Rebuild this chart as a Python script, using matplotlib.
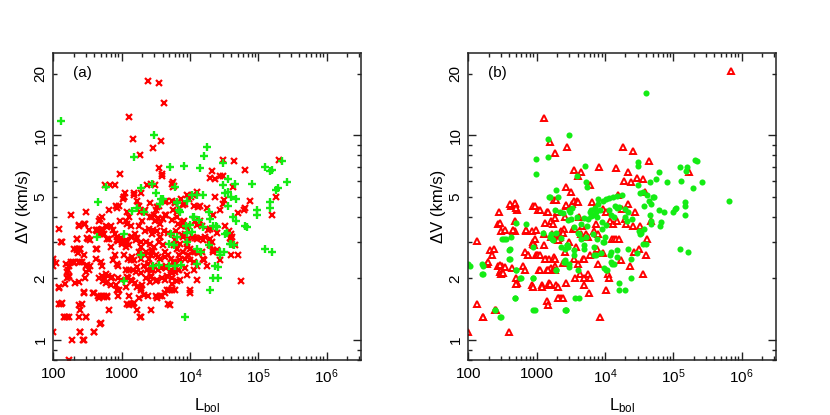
import matplotlib
matplotlib.use("Agg")
import matplotlib.pyplot as plt
from matplotlib.ticker import FixedLocator, FuncFormatter, NullFormatter
import numpy as np

plt.rcParams['font.family'] = ['Liberation Sans', 'DejaVu Sans']
plt.rcParams['mathtext.fontset'] = 'custom'
plt.rcParams['mathtext.rm'] = 'Liberation Sans'
plt.rcParams['mathtext.it'] = 'Liberation Sans'

# ---------------- data (Lbol [Lsun], Delta V [km/s]) ----------------
# panel (a): red crosses
a_red = [
    (100, 2.5), (100, 2.4), (100, 2.3), (100, 1.1), (122, 3.5), (132, 3.0), (122, 1.82), (120, 1.5),
    (130, 1.5), (145, 1.3), (160, 1.3), (170, 0.8), (180, 4.1), (170, 2.3), (165, 2.2), (170, 2.05),
    (160, 2.0), (195, 2.4), (190, 1.0), (155, 2.35), (205, 1.9), (220, 2.8), (235, 2.8), (250, 2.8),
    (225, 3.1), (240, 3.6), (240, 2.4), (250, 2.4), (265, 2.4), (230, 2.65), (240, 1.3), (305, 1.3),
    (250, 1.4), (265, 1.5), (245, 1.1), (275, 1.0), (280, 1.7), (290, 3.7), (297, 4.2), (318, 3.1),
    (335, 3.45), (300, 2.3), (300, 2.15), (290, 2.0), (280, 2.6), (385, 1.7), (390, 1.1), (480, 1.2),
    (350, 2.3), (420, 3.45), (440, 3.45), (460, 3.45), (430, 2.8), (420, 2.5), (450, 1.65), (500, 1.65),
    (560, 1.65), (480, 3.3), (460, 2.0), (480, 3.9), (510, 4.0), (520, 3.5), (510, 3.3), (520, 2.3),
    (510, 2.05), (530, 1.95), (570, 5.7), (680, 5.7), (800, 5.7), (650, 4.3), (560, 3.3), (590, 3.6),
    (620, 3.1), (660, 3.1), (700, 3.6), (600, 2.1), (640, 2.05), (690, 2.0), (620, 1.65), (650, 1.4),
    (600, 1.9), (700, 1.85), (820, 4.5), (860, 4.4), (750, 3.45), (800, 3.3), (870, 3.2), (900, 3.05),
    (950, 3.1), (1000, 3.0), (800, 2.6), (760, 2.45), (850, 2.35), (900, 2.3), (880, 2.0), (820, 1.85),
    (870, 1.75), (900, 1.65), (960, 6.5), (950, 3.8), (1050, 4.9),
    (238, 3.65), (280, 3.7), (470, 3.8), (500, 3.45), (620, 3.57), (128, 3.0), (225, 3.1), (315, 3.14),
    (350, 3.08), (440, 3.4), (200, 2.8), (225, 2.75), (250, 2.8), (420, 2.8), (690, 2.85), (870, 3.07),
    (970, 3.14), (1150, 2.96), (108, 2.37), (180, 2.4), (200, 2.37), (315, 2.33), (500, 2.4), (160, 2.15),
    (170, 2.04), (330, 2.2), (550, 2.0), (735, 2.04), (121, 1.79), (150, 1.89), (238, 1.93), (280, 1.72),
    (395, 1.69), (470, 1.6), (550, 1.63), (620, 1.63), (135, 1.51), (238, 1.48), (150, 1.3), (170, 1.3),
    (300, 1.3), (500, 1.21), (395, 1.1), (250, 1.1), (280, 1.0),
    (1000, 2.96), (1150, 3.08), (1360, 3.2), (1610, 3.08), (1900, 2.86), (2240, 2.7), (2670, 2.6),
    (1360, 2.46), (1690, 2.28), (1900, 2.12), (2370, 2.2), (2670, 2.04), (1360, 1.96), (1690, 1.82),
    (1900, 1.75), (2130, 1.66), (1520, 1.51), (1280, 1.48), (1900, 1.3), (1210, 2.04), (970, 1.96),
    (1150, 1.82), (920, 1.75),
    (1070, 5.0), (1130, 5.2), (1280, 12.3), (1470, 9.6), (1875, 8.0), (1500, 5.1), (1700, 4.8),
    (1900, 5.2), (1750, 4.5), (1300, 4.0), (1150, 3.8), (1200, 3.7), (1350, 3.6), (1400, 3.2),
    (1550, 3.3), (1700, 3.15), (1200, 3.0), (1300, 2.9), (1150, 2.85), (1100, 2.6), (1250, 2.5),
    (1400, 2.55), (1500, 2.45), (1150, 2.2), (1300, 2.2), (1450, 2.2), (1600, 2.15), (1250, 2.0),
    (1400, 1.95), (1550, 1.9), (1200, 1.5), (1350, 1.5), (1450, 1.5), (1300, 1.65), (1700, 1.4),
    (1850, 1.3), (1800, 1.6), (1900, 1.8), (2000, 1.85), (1950, 2.5), (1800, 2.7), (1900, 3.0),
    (1800, 3.6), (2000, 3.8), (1850, 4.2), (1080, 5.0), (1520, 5.2), (920, 4.5), (1200, 4.2),
    (1800, 4.5), (2100, 4.2),
    (2450, 18.4), (3560, 18.1), (4200, 14.4), (2880, 8.7), (3800, 9.4), (3560, 6.9), (3940, 6.5),
    (3940, 6.3), (2320, 5.7), (2700, 5.8), (3200, 4.3), (3500, 4.5), (3000, 4.1), (2600, 4.0),
    (2200, 4.3), (3100, 3.8), (3400, 3.9), (3700, 3.7), (4000, 3.9), (4500, 4.1), (2200, 3.4),
    (2500, 3.5), (2800, 3.3), (3300, 3.4), (3600, 3.2), (4200, 3.4), (2300, 3.0), (2600, 2.95),
    (3000, 2.85), (3500, 3.0), (4000, 2.9), (2200, 2.6), (2500, 2.5), (2800, 2.7), (3200, 2.6),
    (3700, 2.5), (4300, 2.55), (4800, 2.6), (2100, 2.3), (2400, 2.35), (2700, 2.2), (3000, 2.3),
    (3400, 2.2), (3800, 2.25), (4500, 2.3), (2300, 2.0), (2700, 2.05), (3200, 1.95), (3900, 2.0),
    (4600, 2.05), (2400, 1.65), (3200, 1.65), (3600, 1.65), (3900, 1.65), (2650, 1.4), (4800, 1.5),
    (4600, 1.75), (5000, 1.75), (4500, 4.8),
    (3070, 5.7), (5400, 5.8), (5700, 5.6), (2600, 4.65), (3270, 4.47), (4300, 4.74), (6050, 4.65),
    (8000, 4.57), (11200, 5.1), (13200, 4.47), (17600, 4.4), (23000, 5.0), (31000, 4.84), (43000, 5.6),
    (51000, 4.16), (64000, 4.4), (2750, 4.0), (3450, 3.93), (4300, 4.07), (5400, 3.86), (6400, 4.0),
    (8000, 3.78), (9500, 3.45), (12600, 3.65), (18600, 3.45), (24700, 3.33), (39000, 3.14),
    (45000, 2.9), (50000, 2.6), (2900, 3.45), (3650, 3.2), (4800, 3.33), (6000, 3.08), (7600, 3.26),
    (9000, 2.96), (11900, 3.14), (15700, 3.08), (19700, 2.9), (2750, 2.75), (3450, 2.55), (4300, 2.7),
    (5700, 2.4), (7200, 2.46), (9500, 2.6), (11900, 2.7), (15700, 2.5), (22000, 2.7), (27500, 2.46),
    (2900, 2.2), (4400, 2.24), (5500, 2.12), (7000, 2.2), (9200, 2.08), (11400, 2.2), (12800, 1.96),
    (2600, 1.93), (3270, 1.96), (4300, 1.96), (5400, 1.89), (7200, 1.96), (3270, 1.6), (4300, 1.69),
    (5100, 1.48), (10000, 1.69),
    (5570, 5.9), (5890, 5.65), (5500, 4.8), (6100, 4.7), (7500, 4.9), (8500, 4.6), (9000, 5.1),
    (9600, 4.9), (5700, 4.3), (6500, 4.2), (7000, 4.4), (6800, 3.7), (7500, 3.6), (8200, 3.8),
    (9000, 3.6), (5500, 3.3), (6200, 3.4), (7800, 3.2), (8500, 3.3), (9500, 3.1), (5800, 2.9),
    (6500, 2.8), (7200, 2.95), (8000, 2.7), (9000, 2.85), (10000, 2.8), (5200, 2.5), (6000, 2.4),
    (7000, 2.6), (8500, 2.5), (10000, 2.45), (5300, 2.2), (6100, 2.15), (6800, 2.2), (8500, 2.25),
    (5500, 2.0), (6500, 1.95), (5400, 1.75), (6000, 1.75), (10000, 1.75),
    (10500, 5.0), (11500, 4.5), (12500, 5.27), (14000, 4.5), (12000, 3.8), (13000, 3.7), (14000, 3.8),
    (15000, 3.6), (11000, 3.2), (12500, 3.1), (14500, 3.15), (16500, 3.2), (11000, 2.7), (13000, 2.65),
    (15000, 2.7), (11500, 2.4), (12500, 2.3), (16000, 2.45), (18000, 2.3), (20000, 3.1), (21000, 3.0),
    (21000, 6.7), (20000, 6.2), (23000, 6.1), (22000, 4.1), (20000, 3.5), (22000, 2.75), (25000, 2.75),
    (28000, 6.3), (30000, 6.3), (30000, 7.6), (30000, 4.6), (28000, 4.3), (33000, 3.6), (37000, 3.4),
    (40000, 3.3), (41000, 3.2), (40000, 3.1), (40000, 2.6), (44000, 7.5), (55000, 1.95), (65000, 6.8),
    (62000, 4.3), (75000, 4.8), (160000, 4.1), (180000, 5.0), (200000, 7.6),
]

# panel (a): green plus signs
a_green = [
    (130, 11.8), (450, 4.7), (440, 3.2), (600, 5.6), (1500, 7.8), (3000, 10.0), (2800, 5.8), (1900, 5.5),
    (3200, 5.2), (3800, 4.9), (3600, 4.6), (1700, 4.4), (1400, 4.25), (2100, 4.2), (1100, 3.3),
    (1900, 2.6), (1100, 1.95), (2900, 2.3), (5000, 2.95), (5200, 3.3), (5100, 7.0), (8300, 7.1),
    (6100, 5.6), (6400, 4.7), (7000, 4.3), (5000, 2.3), (6000, 2.3), (8700, 3.6), (9200, 3.35),
    (9000, 3.0), (9000, 4.8), (12700, 5.1), (14000, 6.9), (16000, 7.9), (18000, 8.8), (15500, 5.1),
    (11500, 4.0), (13500, 3.85), (12500, 2.8), (12500, 2.35), (20000, 3.9), (19000, 4.2), (22000, 3.6),
    (24000, 3.6), (28000, 2.6), (28000, 2.7), (23000, 2.3), (22000, 2.0), (20000, 1.75), (8500, 1.3),
    (30000, 7.3), (30000, 5.7), (33000, 5.2), (36000, 5.3), (36000, 6.1), (40000, 5.0), (45000, 5.8),
    (48000, 4.9), (42000, 4.0), (48000, 3.8), (36000, 4.5), (33000, 3.3), (38000, 2.95), (40000, 2.95),
    (65000, 3.6), (82000, 5.8), (95000, 4.3), (95000, 4.1), (125000, 2.8), (160000, 2.7), (125000, 7.0),
    (150000, 6.7), (160000, 6.8), (220000, 7.5), (260000, 5.9), (180000, 5.4), (195000, 5.5),
    (150000, 4.7), (150000, 4.4), (4100, 4.9), (6400, 4.65), (10600, 5.1), (7200, 4.24), (10000, 3.65),
    (11200, 4.0), (15700, 3.57), (24700, 3.57), (35000, 3.33), (68000, 3.57), (6500, 3.2), (5800, 2.9),
    (10800, 3.38), (19000, 2.9), (32000, 2.7), (44000, 2.9), (3500, 2.33), (7300, 2.33), (14400, 2.7),
    (26000, 2.28), (26000, 2.0),
]

# panel (b): red open triangles
b_red = [
    (100, 1.1), (135, 3.05), (135, 1.5), (165, 1.3), (190, 2.35), (210, 2.75), (225, 2.6), (245, 1.4),
    (280, 4.2), (275, 3.7), (300, 3.4), (270, 2.3), (290, 2.15), (305, 2.2), (315, 2.3), (300, 2.1),
    (400, 1.1), (420, 4.5), (450, 3.4), (480, 3.4), (490, 4.6), (510, 4.3), (480, 3.8), (500, 2.0),
    (510, 1.9), (640, 2.3), (680, 2.7), (700, 3.4), (750, 2.6), (850, 1.85), (870, 3.4), (880, 4.5),
    (900, 3.0), (920, 2.9), (950, 3.1), (970, 2.6), (1000, 2.6), (1050, 2.6), (1050, 4.3), (1100, 2.2),
    (1200, 1.85), (1280, 12.2), (1300, 2.9), (1300, 3.3), (1400, 4.2), (1350, 2.5), (1500, 2.5),
    (1400, 2.2), (1500, 2.2), (1600, 2.25), (1500, 1.9), (1550, 1.85), (1430, 1.55), (1550, 9.3),
    (1850, 8.2), (1650, 3.8), (1750, 3.7), (1800, 4.85), (1700, 3.3), (1600, 3.2), (1800, 2.55),
    (1850, 2.3), (1900, 1.85), (2000, 4.2), (2000, 3.1), (2100, 3.15), (2200, 3.2), (2100, 1.6),
    (2300, 1.6), (2300, 3.4), (2600, 4.0), (2700, 5.6), (2800, 8.8), (2700, 4.5), (2500, 3.5),
    (2600, 2.7), (2700, 1.9), (3000, 3.0), (3200, 5.3), (3300, 4.6), (3500, 6.8), (3500, 4.8),
    (3400, 3.5), (3700, 3.5), (3500, 2.5), (3800, 2.85), (3700, 2.0), (3900, 4.8), (4100, 4.7),
    (4000, 6.3), (4000, 2.35), (4200, 4.0), (4300, 2.1), (4500, 6.6), (4400, 3.3), (4600, 3.6),
    (4700, 2.5), (5000, 2.5), (4900, 1.85), (5000, 2.0), (5200, 3.3), (5600, 3.2), (5600, 2.1),
    (5800, 1.7), (6000, 2.0), (6000, 2.6), (6100, 5.7), (6400, 4.7), (7000, 3.4), (7200, 4.4),
    (7500, 3.7), (7600, 2.8), (8000, 3.3), (8200, 7.0), (8000, 2.35), (8500, 1.3), (9300, 4.35),
    (9500, 2.65), (10200, 1.75), (10500, 4.2), (11000, 2.1), (11500, 2.0), (12000, 3.8), (12500, 3.1),
    (13500, 3.1), (14500, 3.1), (13000, 3.7), (14500, 6.9), (15000, 3.8), (15500, 5.1), (16000, 3.1),
    (17000, 2.45), (18000, 4.35), (18500, 8.8), (19000, 6.0), (20000, 3.9), (20500, 3.7), (21500, 6.6),
    (22000, 4.6), (23000, 2.3), (24000, 5.9), (26000, 8.4), (26000, 3.6), (27000, 2.7), (28000, 4.2),
    (29000, 6.2), (32000, 2.8), (33000, 3.6), (36000, 6.1), (36000, 2.1), (39000, 5.3), (41000, 3.1),
    (40000, 2.6), (44000, 7.5), (47000, 3.8), (170000, 6.6), (700000, 20.5),
    (404, 4.6), (478, 4.68), (505, 4.43), (940, 4.53), (1110, 4.32), (1470, 4.2), (1940, 4.83),
    (2720, 4.57), (288, 3.72), (340, 3.45), (452, 3.45), (705, 3.45), (990, 3.45), (1330, 3.72),
    (1860, 3.93), (2050, 3.08), (2440, 3.33), (235, 2.8), (195, 2.41), (288, 2.33), (345, 2.28),
    (325, 2.12), (430, 2.24), (680, 2.2), (760, 2.6), (895, 2.96), (1120, 2.6), (1320, 2.5), (1860, 2.5),
    (1120, 2.2), (1470, 2.2), (1860, 2.2), (2440, 2.37), (505, 1.89), (895, 1.82), (1190, 1.82),
    (1570, 1.89), (2050, 1.82), (1470, 1.48), (2050, 1.6), (2440, 1.6), (164, 1.3), (257, 1.4),
]

# panel (b): green filled dots
b_green = [
    (100, 2.35), (160, 2.35), (160, 2.1), (250, 1.4), (290, 1.3), (310, 3.1), (330, 3.1), (390, 2.75),
    (400, 2.5), (420, 3.2), (480, 1.6), (500, 2.2), (570, 2.0), (700, 3.7), (880, 1.4), (900, 2.0),
    (900, 2.85), (980, 6.5), (980, 7.7), (1450, 9.6), (1450, 7.8), (1500, 5.0), (1600, 3.3), (1700, 3.1),
    (1900, 5.4), (1850, 4.3), (1950, 2.2), (2200, 4.2), (2300, 2.85), (2600, 2.45), (2600, 1.4),
    (2800, 2.9), (3000, 10.0), (3000, 4.3), (3000, 2.35), (3200, 3.9), (3300, 4.4), (3500, 2.6),
    (3700, 1.6), (4200, 1.6), (3900, 6.3), (4000, 2.2), (4200, 3.3), (4500, 3.1), (4500, 3.7),
    (5000, 2.9), (5100, 7.1), (5300, 5.9), (5500, 5.6), (5500, 3.6), (5700, 3.9), (6000, 4.2),
    (6300, 4.3), (6800, 4.1), (7200, 4.4), (6600, 3.3), (7000, 2.6), (7500, 2.6), (7800, 4.9),
    (8000, 4.6), (8500, 4.3), (9000, 3.5), (9500, 4.8), (9500, 3.0), (10000, 3.2), (10500, 4.9),
    (11500, 4.95), (13000, 5.0), (10500, 2.2), (11500, 4.3), (12000, 2.6), (12500, 2.35), (13500, 2.35),
    (13500, 4.0), (14000, 4.5), (15000, 4.4), (15000, 2.55), (16000, 1.9), (16000, 1.75), (18000, 5.1),
    (19500, 4.35), (20000, 1.75), (20000, 4.0), (21000, 3.8), (22000, 2.8), (24000, 2.0), (25000, 3.9),
    (30000, 7.4), (30000, 7.1), (30000, 5.7), (33000, 5.2), (32000, 3.4), (33000, 3.3), (36000, 5.3),
    (36000, 2.95), (37000, 4.5), (40000, 16.0), (40000, 2.95), (41000, 5.1), (44000, 4.8), (45000, 4.1),
    (47000, 3.8), (48000, 4.6), (45000, 5.9), (50000, 5.0), (55000, 6.1), (62000, 6.6), (62000, 4.3),
    (65000, 3.6), (82000, 5.9), (100000, 4.2), (105000, 4.35), (110000, 4.4), (125000, 2.8),
    (125000, 7.0), (130000, 6.0), (150000, 4.7), (150000, 4.5), (150000, 4.1), (160000, 7.0),
    (155000, 6.7), (165000, 2.7), (195000, 5.5), (210000, 7.6), (225000, 7.5), (265000, 5.9),
    (650000, 4.8),
    (15000, 5.05), (3100, 4.2), (3900, 4.0), (4900, 3.95), (6200, 4.05), (7400, 4.2),
    (7600, 4.0), (9000, 3.78), (10300, 3.65), (12300, 4.07), (16000, 4.48), (22000, 4.24),
    (3500, 3.58), (4100, 3.33), (5200, 3.2), (7700, 3.13), (9800, 3.02), (2780, 2.9), (3500, 2.75),
    (4900, 2.8), (7000, 2.85), (8700, 2.65), (12200, 2.7), (15000, 2.75), (12200, 2.41), (24000, 2.5),
    (29000, 2.66), (10600, 2.2), (9600, 2.25), (2500, 2.4), (2950, 2.27), (2700, 1.4), (34000, 3.33),
    (37000, 3.5), (47000, 3.7), (66000, 3.78), (73000, 4.2), (52000, 5.0),
    (1550, 5.0), (505, 3.72), (360, 3.1), (404, 2.8), (404, 2.5), (105, 2.3), (164, 2.3), (164, 2.1),
    (505, 2.2), (598, 2.0), (895, 2.0), (478, 1.6), (243, 1.4), (304, 1.3), (940, 1.4), (2720, 1.4),
    (2050, 5.0), (2440, 4.16), (2860, 3.86), (1940, 3.33), (2860, 2.86), (1940, 2.2), (2570, 2.41),
    (1240, 3.33), (1550, 3.2), (1740, 3.08), (2300, 3.14), (2570, 2.8),
]

x_ticks = [1e2, 1e3, 1e4, 1e5, 1e6]
x_ticklabels = ['100', '1000', r'$10^4$', r'$10^5$', r'$10^6$']
y_major = [1, 10]
y_minor = [0.8, 0.9, 2, 3, 4, 5, 6, 7, 8, 9, 20]
y_labelled = {1: '1', 2: '2', 5: '5', 10: '10', 20: '20'}
XLIM = (100, 3.16e6)
YLIM = (0.8, 25.3)

RED = '#ff0000'
GREEN = '#14ec14'


def unzip(pairs):
    arr = np.array(pairs, dtype=float)
    return arr[:, 0], arr[:, 1]


fig = plt.figure(figsize=(8.3, 4.15), dpi=100)
ax_a = fig.add_axes([0.0642, 0.1325, 0.3704, 0.7405])
ax_b = fig.add_axes([0.5642, 0.1325, 0.3704, 0.7405])


def style(ax, label):
    ax.set_xscale('log')
    ax.set_yscale('log')
    ax.set_xlim(*XLIM)
    ax.set_ylim(*YLIM)
    ax.xaxis.set_major_locator(FixedLocator(x_ticks))
    ax.set_xticklabels(x_ticklabels)
    ax.xaxis.set_minor_locator(FixedLocator(
        [m * 10 ** e for e in range(2, 7) for m in range(2, 10) if m * 10 ** e <= XLIM[1]]))
    ax.xaxis.set_minor_formatter(NullFormatter())
    ax.yaxis.set_major_locator(FixedLocator(y_major))
    ax.yaxis.set_minor_locator(FixedLocator(y_minor))
    fmt = FuncFormatter(lambda v, p: y_labelled.get(round(v, 3) if v < 1 else int(round(v)), ''))
    ax.yaxis.set_major_formatter(fmt)
    ax.yaxis.set_minor_formatter(fmt)
    ax.tick_params(which='both', direction='in', top=True, right=True, width=1.0, color='#222222')
    ax.tick_params(which='major', length=6)
    ax.tick_params(which='minor', length=3.2)
    ax.tick_params(axis='x', which='both', labelsize=11, pad=5)
    ax.tick_params(axis='y', which='both', labelsize=11, pad=4)
    for t in ax.get_yticklabels(which='both'):
        t.set_rotation(90)
        t.set_va('center')
    for s in ax.spines.values():
        s.set_linewidth(1.1)
        s.set_color('#222222')
    ax.set_xlabel(r'L$_{\rm bol}$', fontsize=12, labelpad=8)
    ax.set_ylabel(r'ΔV (km/s)', fontsize=12, labelpad=2)
    ax.text(0.065, 0.935, label, transform=ax.transAxes, fontsize=11, ha='left', va='center')


style(ax_a, '(a)')
style(ax_b, '(b)')

x, y = unzip(a_red)
ax_a.plot(x, y, linestyle='none', marker='x', ms=4.2, mew=1.6, color=RED, clip_on=True)
x, y = unzip(a_green)
ax_a.plot(x, y, linestyle='none', marker='+', ms=6.2, mew=1.7, color=GREEN, clip_on=True)

x, y = unzip(b_red)
ax_b.plot(x, y, linestyle='none', marker='^', ms=5.0, mew=1.4, mfc='white', mec=RED, clip_on=True)
x, y = unzip(b_green)
ax_b.plot(x, y, linestyle='none', marker='o', ms=4.4, mew=0, mfc=GREEN, clip_on=True)

fig.savefig('out.png', dpi=100)
